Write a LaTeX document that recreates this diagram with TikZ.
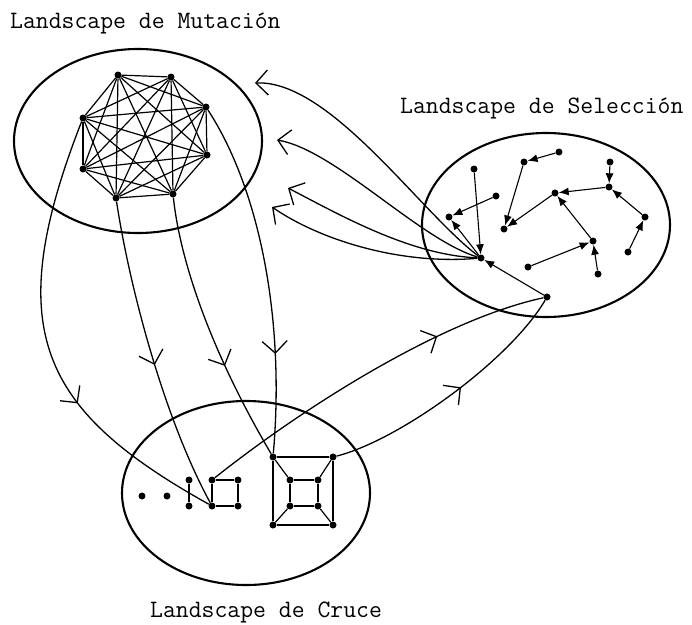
\documentclass[tikz,border=0pt]{standalone}
\usepackage{fontspec}
\usetikzlibrary{shapes.geometric,arrows.meta,decorations.markings}
\begin{document}
\begin{tikzpicture}[x=1pt,y=-1pt,
  dot/.style={circle,fill=black,inner sep=0pt,minimum size=7pt},
  land/.style={ellipse,draw,line width=2.1pt,minimum width=248pt,minimum height=184pt,inner sep=0pt},
  kedge/.style={line width=1.2pt},
  sel/.style={line width=1.1pt,-{Latex[length=10pt,width=8pt]}},
  conn/.style={line width=1.3pt},
  barb/.style={conn,-{Straight Barb[length=12pt,width=25pt]}},
  midbarb/.style={conn,postaction={decorate},decoration={markings,mark=at position #1 with {\arrow{Straight Barb[length=12pt,width=25pt,line width=1.3pt]}}}},
  lbl/.style={font=\ttfamily\fontsize{25}{30}\selectfont,inner sep=0pt,anchor=base west}
]
\useasboundingbox (0,0) rectangle (692,624);

% landscapes
\node[land] (M) at (138,141) {};
\node[land] (S) at (546,225) {};
\node[land] (C) at (246,493) {};

% labels
\node[lbl] (LM) at (10,28) {Landscape de Mutación};
\node[lbl] (LS) at (400,113) {Landscape de Selección};
\node[lbl] (LC) at (150,617) {Landscape de Cruce};

% mutation: complete graph K8
\node[dot] (m1) at (118,75) {};
\node[dot] (m2) at (171,77) {};
\node[dot] (m3) at (206,107) {};
\node[dot] (m4) at (207,155) {};
\node[dot] (m5) at (173,194) {};
\node[dot] (m6) at (116,198) {};
\node[dot] (m7) at (83,169) {};
\node[dot] (m8) at (83,118) {};
\foreach \i in {1,...,7}{
  \pgfmathtruncatemacro\nx{\i+1}
  \foreach \j in {\nx,...,8}{\draw[kedge] (m\i) -- (m\j);}
}

% selection: forest with arrows
\node[dot] (s1) at (559,152) {};
\node[dot] (s2) at (524,162) {};
\node[dot] (s3) at (474,169) {};
\node[dot] (s4) at (610,162) {};
\node[dot] (s5) at (496,196) {};
\node[dot] (s6) at (609,187) {};
\node[dot] (s7) at (555,193) {};
\node[dot] (s8) at (449,217) {};
\node[dot] (s9) at (504,229) {};
\node[dot] (s10) at (645,217) {};
\node[dot] (s11) at (593,241) {};
\node[dot] (s12) at (481,258) {};
\node[dot] (s13) at (628,252) {};
\node[dot] (s14) at (528,267) {};
\node[dot] (s15) at (598,274) {};
\node[dot] (s16) at (547,297) {};
\draw[sel] (s1) -- (s2);
\draw[sel] (s2) -- (s9);
\draw[sel] (s7) -- (s9);
\draw[sel] (s6) -- (s7);
\draw[sel] (s11) -- (s7);
\draw[sel] (s4) -- (s6);
\draw[sel] (s10) -- (s6);
\draw[sel] (s13) -- (s10);
\draw[sel] (s14) -- (s11);
\draw[sel] (s15) -- (s11);
\draw[sel] (s5) -- (s8);
\draw[sel] (s12) -- (s8);
\draw[sel] (s3) -- (s12);
\draw[sel] (s16) -- (s12);

% crossover
\node[dot] (c1) at (142,496) {};
\node[dot] (c2) at (167,496) {};
\node[dot] (c3) at (189,480) {};
\node[dot] (c4) at (189,506) {};
\node[dot] (c5) at (212,480) {};
\node[dot] (c6) at (212,506) {};
\node[dot] (c7) at (238,480) {};
\node[dot] (c8) at (238,506) {};
\node[dot] (c9) at (273,457) {};
\node[dot] (c10) at (333,457) {};
\node[dot] (c11) at (273,525) {};
\node[dot] (c12) at (333,525) {};
\node[dot] (c13) at (290,480) {};
\node[dot] (c14) at (318,480) {};
\node[dot] (c15) at (290,506) {};
\node[dot] (c16) at (318,506) {};
\draw[kedge] (c3) -- (c4);
\draw[kedge] (c5) -- (c7) -- (c8) -- (c6) -- (c5);
\draw[kedge] (c9) -- (c10) -- (c12) -- (c11) -- (c9);
\draw[kedge] (c13) -- (c14) -- (c16) -- (c15) -- (c13);
\draw[kedge] (c9) -- (c13);
\draw[kedge] (c10) -- (c14);
\draw[kedge] (c11) -- (c15);
\draw[kedge] (c12) -- (c16);

% mutation -> crossover
\draw[midbarb=0.64] (m8) .. controls (0,330) and (40,410) .. (c6);
\draw[midbarb=0.53] (m6) .. controls (130,290) and (165,420) .. (c6);
\draw[midbarb=0.64] (m5) .. controls (180,260) and (210,350) .. (c9);
\draw[midbarb=0.72] (m3) .. controls (260,190) and (285,320) .. (c9);

% crossover -> selection
\draw[midbarb=0.70] (c5) .. controls (300,410) and (440,320) .. (s16);
\draw[midbarb=0.54] (c10) .. controls (400,440) and (510,360) .. (s16);

% selection -> mutation
\coordinate (tA) at (255,83);
\coordinate (tB) at (277,140);
\coordinate (tC) at (288,188);
\coordinate (tD) at (272,207);
\draw[barb] (s12) .. controls (420,212) and (330,80) .. (tA);
\draw[barb] (s12) .. controls (420,240) and (335,150) .. (tB);
\draw[barb] (s12) .. controls (410,255) and (340,215) .. (tC);
\draw[barb] (s12) .. controls (400,265) and (320,240) .. (tD);
\end{tikzpicture}
\end{document}
